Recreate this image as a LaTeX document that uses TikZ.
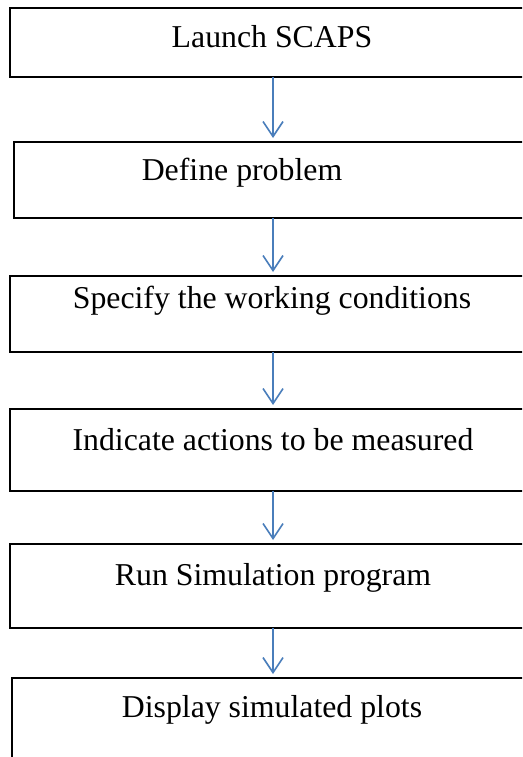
\documentclass[tikz,border=0pt]{standalone}
\usepackage{fontspec}
\setmainfont{Liberation Serif}
\usetikzlibrary{arrows.meta}
\definecolor{arrblue}{HTML}{4A7EBB}
\begin{document}
\begin{tikzpicture}[x=1pt,y=1pt,
  box/.style={draw=black, line width=1.6pt, rectangle, inner sep=0pt, outer sep=0pt, anchor=north west},
  lbl/.style={font=\fontsize{31.8}{38}\selectfont, anchor=base, inner sep=0pt},
  arr/.style={draw=arrblue, line width=1.6pt, -{Straight Barb[length=15pt,width=20pt,line width=1.6pt]}}]
\useasboundingbox (0,0) rectangle (522,-757);
\clip (0,0) rectangle (522,-757);
\fill[white] (0,0) rectangle (522,-757);
\coordinate (ax) at (273,0);
% boxes
\node[box, minimum width=525pt, minimum height=69pt] (b1) at (10,-8) {};
\node[box, minimum width=521pt, minimum height=76pt] (b2) at (14,-142) {};
\node[box, minimum width=525pt, minimum height=76pt] (b3) at (10,-276) {};
\node[box, minimum width=525pt, minimum height=82pt] (b4) at (10,-409) {};
\node[box, minimum width=525pt, minimum height=84pt] (b5) at (10,-544) {};
\node[box, minimum width=523pt, minimum height=130pt] (b6) at (12,-678) {};
% labels
\node[lbl] (t1) at (272,-48) {Launch SCAPS};
\node[lbl] (t2) at (242,-180) {Define problem};
\node[lbl] (t3) at (272,-308) {Specify the working conditions};
\node[lbl] (t4) at (273,-450) {Indicate actions to be measured};
\node[lbl] (t5) at (273,-585) {Run Simulation program};
\node[lbl] (t6) at (272,-717) {Display simulated plots};
% arrows
\draw[arr] (b1.south -| ax) -- ([yshift=4pt]b2.north -| ax);
\draw[arr] (b2.south -| ax) -- ([yshift=4pt]b3.north -| ax);
\draw[arr] (b3.south -| ax) -- ([yshift=4pt]b4.north -| ax);
\draw[arr] (b4.south -| ax) -- ([yshift=4pt]b5.north -| ax);
\draw[arr] (b5.south -| ax) -- ([yshift=4pt]b6.north -| ax);
\end{tikzpicture}
\end{document}
